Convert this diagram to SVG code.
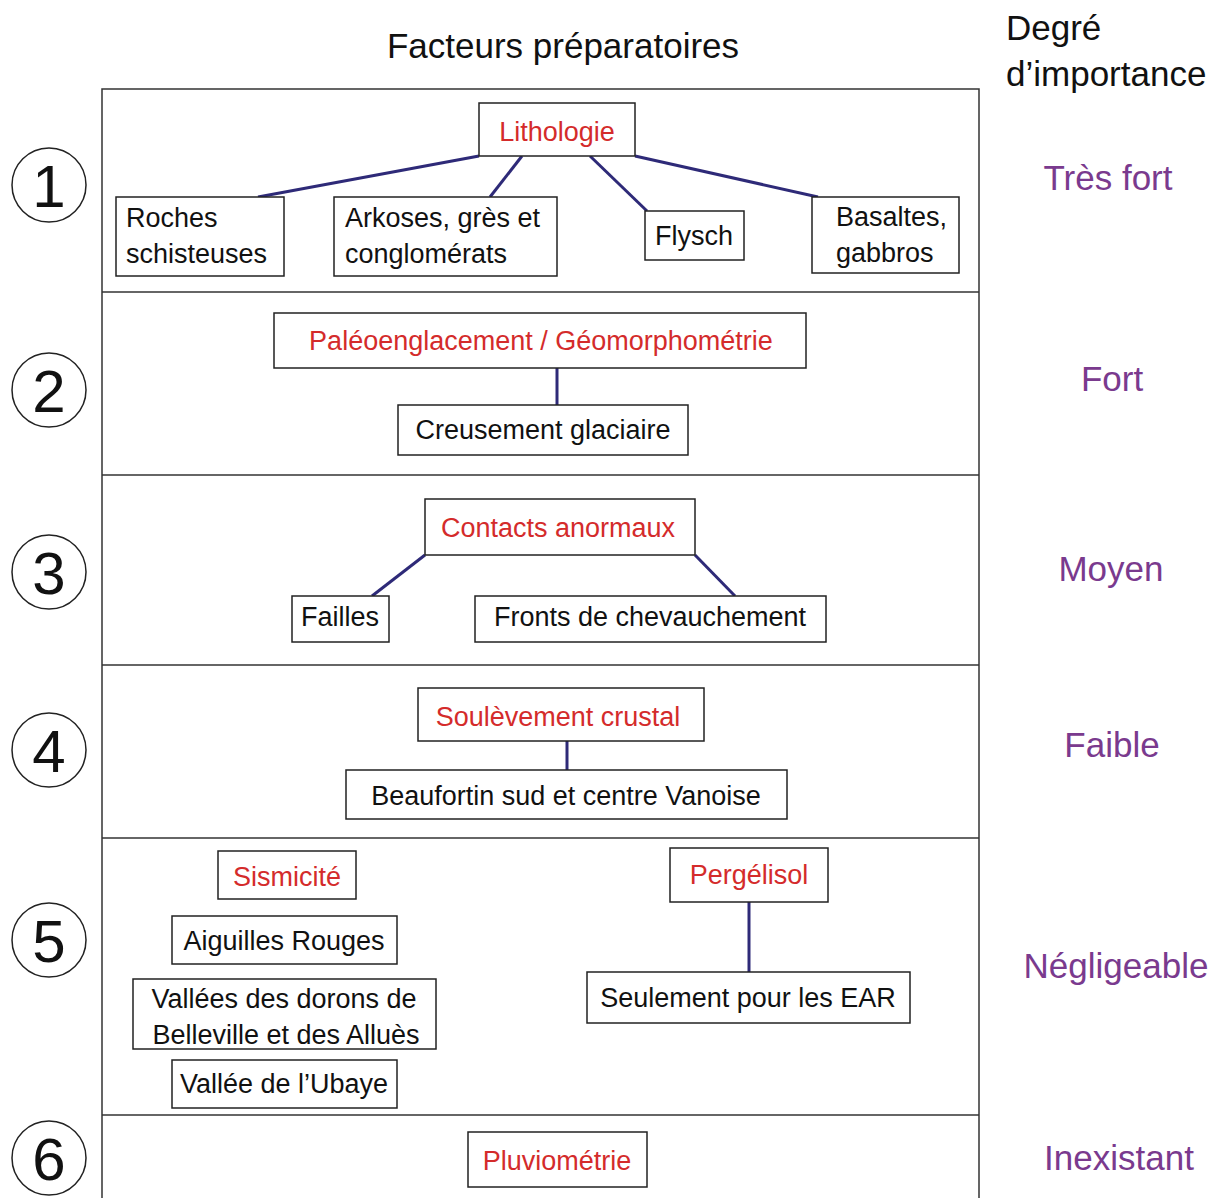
<svg xmlns="http://www.w3.org/2000/svg" width="1224" height="1198" viewBox="0 0 1224 1198">
<style>
.frame{fill:none;stroke:#333;stroke-width:1.5}
.box{fill:#fff;stroke:#222;stroke-width:1.5}
.t{font-family:"Liberation Sans",Arial,sans-serif;font-size:27px;fill:#111}
.r{font-family:"Liberation Sans",Arial,sans-serif;font-size:27px;fill:#d42b2b}
.c{text-anchor:middle}
.deg{font-family:"Liberation Sans",Arial,sans-serif;font-size:35px;fill:#7a3a8e;text-anchor:middle}
.hd{font-family:"Liberation Sans",Arial,sans-serif;font-size:35px;fill:#111}
.num{font-family:"Liberation Sans",Arial,sans-serif;font-size:60px;fill:#111;text-anchor:middle}
.circ{fill:none;stroke:#222;stroke-width:1.5}
.link{stroke:#2e2a78;stroke-width:3;fill:none}
</style>
<rect width="1224" height="1198" fill="#fff"/>
<g id="headers">
<text class="hd c" x="563" y="58">Facteurs préparatoires</text>
<text class="hd" x="1006" y="40">Degré</text>
<text class="hd" x="1006" y="86">d’importance</text>
</g>
<g id="frame">
<path class="frame" d="M102 1198 V89 H979 V1198"/>
<line class="frame" x1="102" y1="292" x2="979" y2="292"/>
<line class="frame" x1="102" y1="475" x2="979" y2="475"/>
<line class="frame" x1="102" y1="665" x2="979" y2="665"/>
<line class="frame" x1="102" y1="838" x2="979" y2="838"/>
<line class="frame" x1="102" y1="1115" x2="979" y2="1115"/>
</g>
<g id="levels">
<circle class="circ" cx="49" cy="185" r="37"/><text class="num" x="49" y="207">1</text>
<circle class="circ" cx="49" cy="390" r="37"/><text class="num" x="49" y="412">2</text>
<circle class="circ" cx="49" cy="572" r="37"/><text class="num" x="49" y="594">3</text>
<circle class="circ" cx="49" cy="750" r="37"/><text class="num" x="49" y="772">4</text>
<circle class="circ" cx="49" cy="940" r="37"/><text class="num" x="49" y="962">5</text>
<circle class="circ" cx="49" cy="1158" r="37"/><text class="num" x="49" y="1180">6</text>
</g>
<g id="degrees">
<text class="deg" x="1108" y="190">Très fort</text>
<text class="deg" x="1112" y="391">Fort</text>
<text class="deg" x="1111" y="581">Moyen</text>
<text class="deg" x="1112" y="757">Faible</text>
<text class="deg" x="1116" y="978">Négligeable</text>
<text class="deg" x="1119" y="1170">Inexistant</text>
</g>
<g id="connectors">
<line class="link" x1="479" y1="156" x2="258" y2="197"/>
<line class="link" x1="522" y1="156" x2="490" y2="197"/>
<line class="link" x1="590" y1="156" x2="647" y2="211"/>
<line class="link" x1="635" y1="156" x2="818" y2="197"/>
<line class="link" x1="557" y1="368" x2="557" y2="405"/>
<line class="link" x1="425" y1="555" x2="372" y2="596"/>
<line class="link" x1="695" y1="555" x2="735" y2="596"/>
<line class="link" x1="567" y1="741" x2="567" y2="770"/>
<line class="link" x1="749" y1="902" x2="749" y2="972"/>
</g>
<g id="lithologie"><rect class="box" x="479" y="103" width="156" height="53"/><text class="r c" x="557" y="141">Lithologie</text></g>
<g id="roches"><rect class="box" x="116" y="197" width="168" height="79"/><text class="t" x="126" y="227">Roches</text><text class="t" x="126" y="263">schisteuses</text></g>
<g id="arkoses"><rect class="box" x="334" y="197" width="223" height="79"/><text class="t" x="345" y="227">Arkoses, grès et</text><text class="t" x="345" y="263">conglomérats</text></g>
<g id="flysch"><rect class="box" x="645" y="211" width="99" height="49"/><text class="t c" x="694" y="245">Flysch</text></g>
<g id="basaltes"><rect class="box" x="812" y="197" width="147" height="76"/><text class="t" x="836" y="226">Basaltes,</text><text class="t" x="836" y="262">gabbros</text></g>
<g id="paleo"><rect class="box" x="274" y="313" width="532" height="55"/><text class="r c" x="541" y="350">Paléoenglacement / Géomorphométrie</text></g>
<g id="creusement"><rect class="box" x="398" y="405" width="290" height="50"/><text class="t c" x="543" y="439">Creusement glaciaire</text></g>
<g id="contacts"><rect class="box" x="425" y="499" width="270" height="56"/><text class="r c" x="558" y="537">Contacts anormaux</text></g>
<g id="failles"><rect class="box" x="292" y="596" width="97" height="46"/><text class="t c" x="340" y="626">Failles</text></g>
<g id="fronts"><rect class="box" x="475" y="596" width="351" height="46"/><text class="t c" x="650" y="626">Fronts de chevauchement</text></g>
<g id="soulevement"><rect class="box" x="418" y="688" width="286" height="53"/><text class="r c" x="558" y="726">Soulèvement crustal</text></g>
<g id="beaufortin"><rect class="box" x="346" y="770" width="441" height="49"/><text class="t c" x="566" y="805">Beaufortin sud et centre Vanoise</text></g>
<g id="sismicite"><rect class="box" x="218" y="851" width="138" height="48"/><text class="r c" x="287" y="886">Sismicité</text></g>
<g id="aiguilles"><rect class="box" x="172" y="916" width="225" height="48"/><text class="t c" x="284" y="950">Aiguilles Rouges</text></g>
<g id="vallees"><rect class="box" x="133" y="979" width="303" height="70"/><text class="t c" x="284" y="1008">Vallées des dorons de</text><text class="t c" x="286" y="1044">Belleville et des Alluès</text></g>
<g id="ubaye"><rect class="box" x="172" y="1060" width="225" height="48"/><text class="t c" x="284" y="1093">Vallée de l’Ubaye</text></g>
<g id="pergelisol"><rect class="box" x="670" y="848" width="158" height="54"/><text class="r c" x="749" y="884">Pergélisol</text></g>
<g id="seulement"><rect class="box" x="587" y="972" width="323" height="51"/><text class="t c" x="748" y="1007">Seulement pour les EAR</text></g>
<g id="pluviometrie"><rect class="box" x="468" y="1132" width="179" height="55"/><text class="r c" x="557" y="1170">Pluviométrie</text></g>
</svg>
